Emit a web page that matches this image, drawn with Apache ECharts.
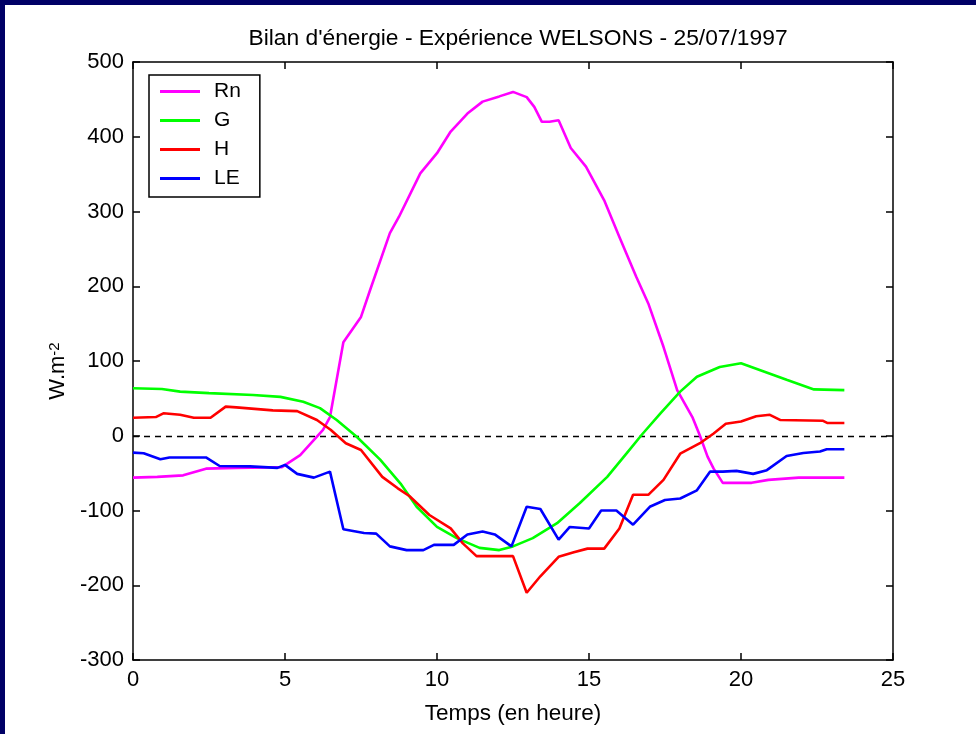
<!DOCTYPE html>
<html>
<head>
<meta charset="utf-8">
<title>Bilan d'énergie - WELSONS</title>
<script src="https://cdn.jsdelivr.net/npm/echarts@6.0.0/dist/echarts.min.js"></script>
<style>
	html, body { margin: 0; padding: 0; background: #fff; }
	#graph { width: 976px; height: 734px; }
</style>
</head>
<body>
<div id="graph"></div>
<script>
	// [heure, W.m-2]
	var rn = [[0,-56],[0.8,-55],[1.65,-53],[2.4,-44],[3.4,-43],[4.9,-42],[5.5,-26],[6.25,8],[6.48,25],[6.92,125],
		[7.5,159],[7.8,195],[8.45,271],[8.75,293],[9.45,351],[10,378],[10.45,407],[11,431],[11.5,447],[12.05,454],
		[12.5,460],[12.95,453],[13.2,440],[13.45,420],[13.7,420],[14,422],[14.4,385],[14.9,360],[15.5,315],[16,266],
		[16.55,213],[16.95,177],[17.45,119],[17.9,61],[18.4,25],[18.65,0],[18.9,-28],[19.1,-44],[19.4,-63],[20.35,-63],
		[20.9,-59],[21.9,-56],[23.4,-56]];
	var g = [[0,63.5],[0.95,62.5],[1.55,59],[2.5,57],[3.95,54.5],[4.85,52],[5.6,45.5],[6.15,37],[6.7,21],[7.35,-1],
		[8.13,-32],[8.8,-64],[9.33,-95],[10,-122],[10.65,-137],[11.4,-150],[12.05,-153],[12.5,-148],[13.15,-137],[13.95,-117],
		[14.7,-90],[15.6,-55],[16.25,-23],[16.75,2],[17.35,30],[18,59],[18.55,79],[19.3,92],[20,97],[20.75,86],
		[21.5,75],[22.4,62],[23.4,61]];
	var h = [[0,24],[0.75,25],[1,30],[1.55,28],[2,24],[2.55,24],[3.05,39],[3.4,38],[4.6,34],[5.4,33],
		[6.05,21],[6.5,8],[7,-10],[7.5,-19],[8.2,-55],[8.7,-70],[9.1,-81],[9.75,-106],[10.45,-124],[10.85,-144],
		[11.3,-161],[12.5,-161],[12.95,-210],[13.4,-188],[14,-162],[14.5,-156],[14.95,-151],[15.5,-151],[16,-124],[16.45,-79],
		[16.95,-79],[17.45,-59],[18,-24],[18.65,-10],[19.1,3],[19.5,16],[20,19],[20.5,26],[20.95,28],[21.3,21],
		[22.7,20],[22.85,17],[23.4,17]];
	var le = [[0,-22.6],[0.35,-23.5],[0.9,-31.5],[1.2,-29],[2.4,-29],[2.85,-40.5],[3.85,-41],[4.75,-43],[5,-39],[5.4,-51],
		[5.95,-56],[6.48,-48],[6.92,-125],[7.6,-130],[8,-131],[8.45,-148],[9,-153],[9.55,-153],[9.9,-146],[10.55,-146],
		[11,-132],[11.5,-128],[11.9,-132],[12.45,-148],[12.95,-95],[13.4,-98],[14,-139],[14.37,-122],[15,-124],[15.4,-100],
		[15.9,-100],[16.45,-119],[17,-95],[17.5,-86],[18,-84],[18.55,-73],[18.98,-48],[19.4,-48],[19.85,-47],[20.4,-51],
		[20.85,-46],[21.5,-27],[22.05,-23],[22.6,-21],[22.82,-18],[23.4,-18]];

	var seriesNames = ['Rn', 'G', 'H', 'LE'];
	var seriesColors = ['#ff00ff', '#00ff00', '#ff0000', '#0000ff'];
	var seriesData = [rn, g, h, le];

	var xRange = [0, 25, 5];
	var yRange = [-300, 500, 100];

	var font = '"Liberation Sans", Arial, sans-serif';
	var axisStyle = { color: '#000', width: 1.5 };

	function makeAxis(range, position, withLabels){
		return {
			type: 'value',
			position: position,
			min: range[0],
			max: range[1],
			interval: range[2],
			axisLine: { show: true, onZero: false, lineStyle: axisStyle },
			axisTick: { show: true, inside: true, length: 7, lineStyle: axisStyle },
			axisLabel: { show: withLabels, color: '#000', fontSize: 22, fontFamily: font, margin: 9 },
			splitLine: { show: false }
		};
	}

	var xBottom = makeAxis(xRange, 'bottom', true);
	xBottom.name = 'Temps (en heure)';
	xBottom.nameLocation = 'middle';
	xBottom.nameGap = 42;
	xBottom.nameTextStyle = { color: '#000', fontSize: 22.5, fontFamily: font };

	var yLeft = makeAxis(yRange, 'left', true);
	yLeft.name = '{a|W.m}{b|-2}';
	yLeft.nameLocation = 'middle';
	yLeft.nameGap = 64;
	yLeft.nameRotate = 90;
	yLeft.nameTextStyle = {
		color: '#000', fontSize: 22, fontFamily: font,
		padding: [0, 20, 0, 0],
		rich: {
			a: { color: '#000', fontSize: 22, fontFamily: font },
			b: { color: '#000', fontSize: 15, fontFamily: font, verticalAlign: 'top' }
		}
	};

	var series = [];
	for(var i = 0; i < seriesNames.length; i++){
		var s = {
			name: seriesNames[i],
			type: 'line',
			data: seriesData[i],
			symbol: 'none',
			color: seriesColors[i],
			lineStyle: { color: seriesColors[i], width: 2.6 },
			z: 3
		};
		// dashed zero line
		if(i == 0){
			s.markLine = {
				silent: true,
				symbol: ['none', 'none'],
				label: { show: false },
				lineStyle: { color: '#000', type: [6, 5], width: 1.3 },
				data: [{ yAxis: 0 }],
				z: 2
			};
		}
		series.push(s);
	}

	var chart = echarts.init(document.getElementById('graph'));
	chart.setOption({
		animation: false,
		backgroundColor: '#fff',
		title: {
			text: "Bilan d'énergie - Expérience WELSONS - 25/07/1997",
			left: 513,
			top: 22,
			textAlign: 'center',
			textStyle: { color: '#000', fontSize: 22.8, fontWeight: 'normal', fontFamily: font }
		},
		legend: {
			orient: 'vertical',
			left: 149,
			top: 75,
			padding: [6, 19, 8, 11],
			itemGap: 8,
			itemWidth: 40,
			itemHeight: 3,
			icon: 'rect',
			borderColor: '#000',
			borderWidth: 1.5,
			backgroundColor: '#fff',
			textStyle: { color: '#000', fontSize: 21, fontFamily: font, padding: [0, 0, 0, 9] },
			data: seriesNames
		},
		grid: { left: 133, right: 83, top: 62, bottom: 74 },
		xAxis: [xBottom, makeAxis(xRange, 'top', false)],
		yAxis: [yLeft, makeAxis(yRange, 'right', false)],
		graphic: [
			{ type: 'rect', shape: { x: 0, y: 0, width: 976, height: 5 }, style: { fill: '#000066' } },
			{ type: 'rect', shape: { x: 0, y: 0, width: 5, height: 734 }, style: { fill: '#000066' } }
		],
		series: series
	});
</script>
</body>
</html>
